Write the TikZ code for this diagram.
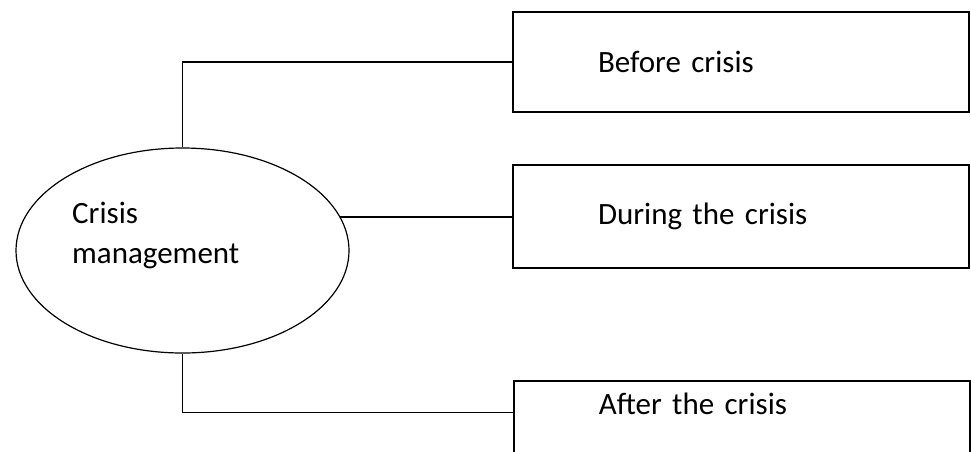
\documentclass[tikz,border=0pt]{standalone}
\usepackage{fontspec}
\setmainfont{Carlito}
\usetikzlibrary{shapes.geometric}

\begin{document}
\begin{tikzpicture}[x=1pt, y=-1pt,
    words/.style={font=\fontsize{31}{40}\selectfont},
    phase/.style={words, draw, line width=1.8pt, minimum width=456pt, minimum height=100pt,
      text width=286pt, inner xsep=85pt, align=left},
    link/.style={line width=1.3pt}]
  \useasboundingbox (0,0) rectangle (971,451);
  \clip (0,0) rectangle (971,451);
  % the hub and its text
  \node[draw, ellipse, line width=1.2pt, minimum width=333pt, minimum height=205pt] (crisis) at (182.5,250.5) {};
  \node[words, anchor=west, align=left, inner sep=0pt] (crisistext) at ([xshift=-110.5pt, yshift=15pt]crisis.center) {Crisis\\management};
  % the three phases
  \node[phase] (before) at (741,62) {Before crisis};
  \node[phase, minimum height=103pt] (during) at (741,216.5) {During the crisis};
  \node[phase, anchor=north west, text height=22pt, text depth=60pt, inner ysep=12pt] (after) at (513,380) {After the crisis};
  \draw[link] (crisis.north) |- (before.west);
  \draw[link] (crisis.12) -- (during.west |- crisis.12);
  \draw[link] (crisis.south) |- (after.mid west);
\end{tikzpicture}
\end{document}
